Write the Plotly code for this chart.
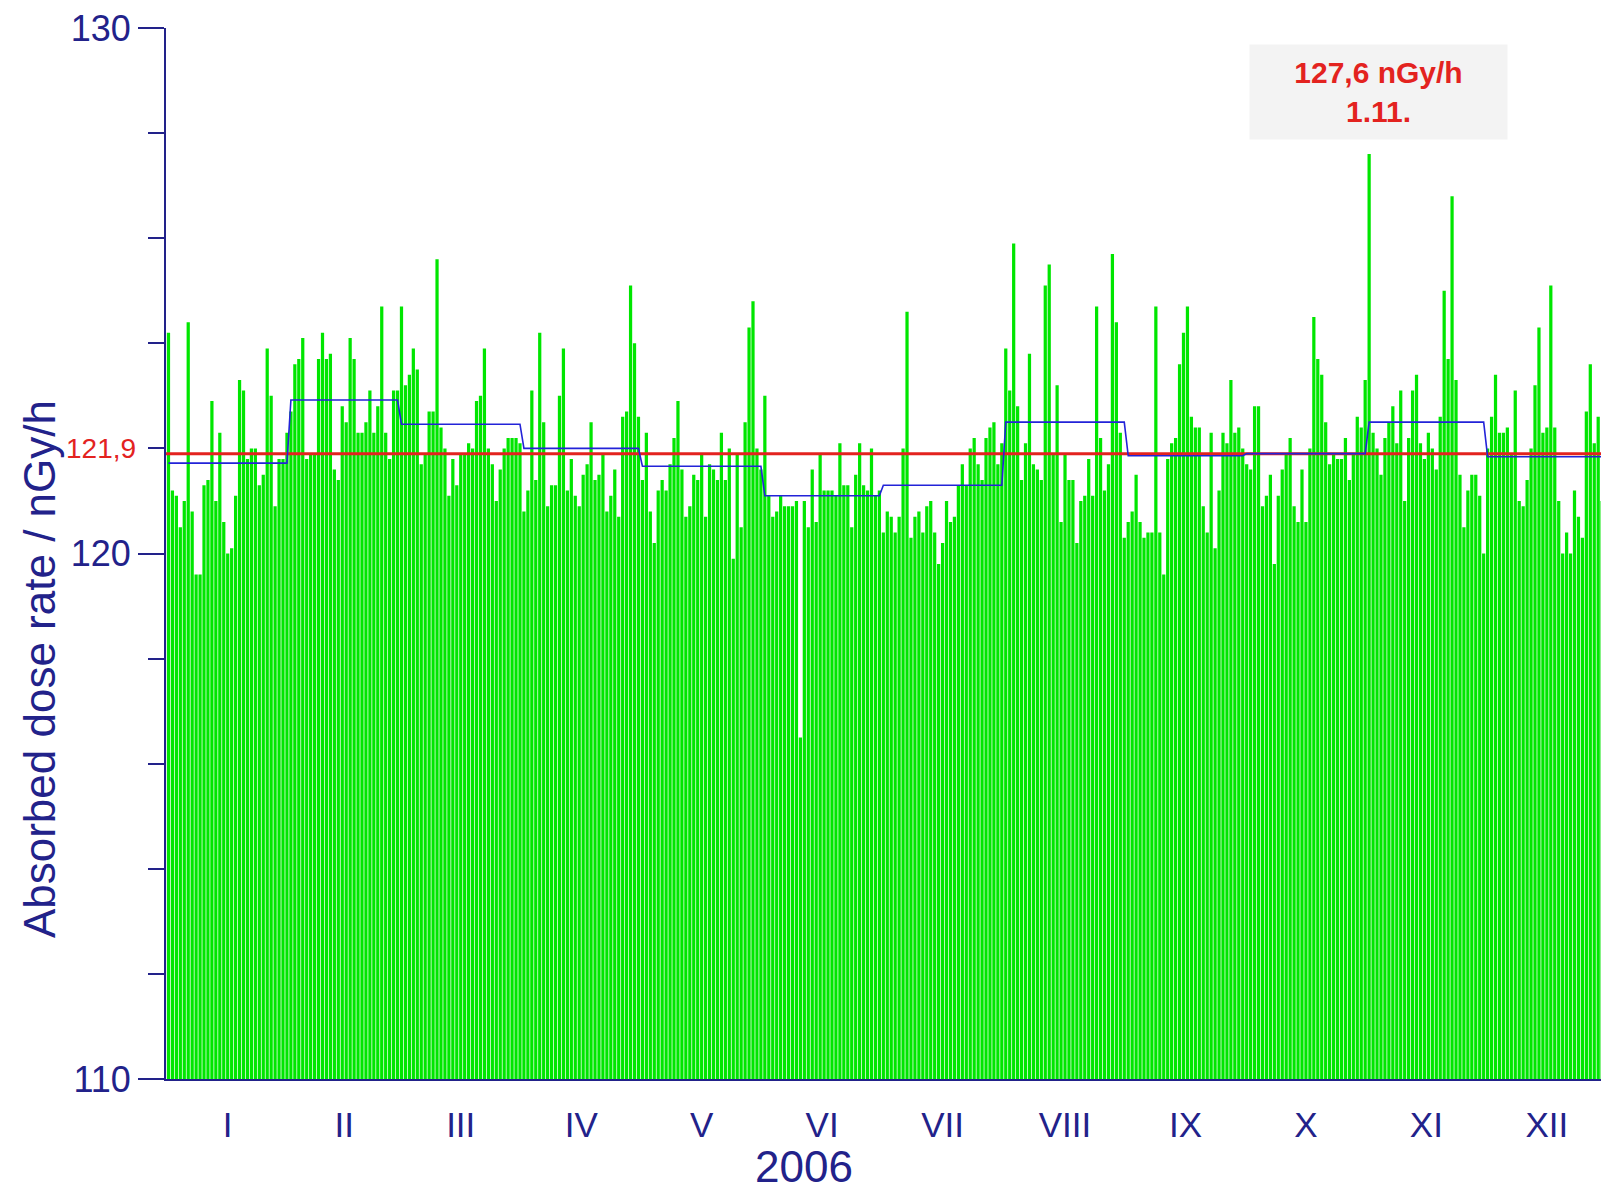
import pandas as pd
import plotly.graph_objects as go

# ---------------- data ----------------
year = 2006
month_labels = ["I", "II", "III", "IV", "V", "VI", "VII", "VIII", "IX", "X", "XI", "XII"]

jan = [124.2, 121.2, 121.1, 120.5, 121.0, 124.4, 120.8, 119.6, 119.6, 121.3, 121.4, 122.9, 121.0, 122.3,
       120.6, 120.0, 120.1, 121.1, 123.3, 123.1, 121.8, 122.0, 122.0, 121.3, 121.5, 123.9, 123.0, 120.9,
       121.8, 121.8, 122.3]
feb = [122.7, 123.6, 123.7, 124.1, 121.8, 121.9, 121.9, 123.7, 124.2, 123.7, 123.8, 121.6, 121.4, 122.8,
       122.5, 124.1, 123.7, 122.3, 122.3, 122.5, 123.1, 122.3, 122.8, 124.7, 122.3, 121.8, 123.1, 123.1]
mar = [124.7, 123.2, 123.4, 123.9, 123.5, 121.7, 121.9, 122.7, 122.7, 125.6, 122.4, 122.0, 121.1, 121.8,
       121.3, 121.9, 121.9, 122.1, 122.0, 122.9, 123.0, 123.9, 122.0, 121.7, 121.0, 121.6, 122.0, 122.2,
       122.2, 122.2, 122.1]
apr = [120.8, 121.2, 123.1, 121.4, 124.2, 122.5, 120.9, 121.3, 121.3, 123.0, 123.9, 121.2, 121.8, 121.1,
       120.9, 121.5, 121.7, 122.5, 121.4, 121.5, 121.9, 120.8, 121.1, 121.6, 120.7, 122.6, 122.7, 125.1,
       124.0, 122.6]
may = [121.4, 122.3, 120.8, 120.2, 121.2, 121.4, 121.2, 121.7, 122.2, 122.9, 121.6, 120.7, 120.9, 121.5,
       121.4, 121.9, 120.7, 121.7, 121.6, 121.4, 122.3, 121.4, 122.0, 119.9, 121.9, 120.5, 122.5, 124.3,
       124.8, 122.0, 121.6]
jun = [123.0, 121.1, 120.7, 120.8, 121.1, 120.9, 120.9, 120.9, 121.0, 116.5, 121.0, 120.5, 121.6, 120.6,
       121.9, 121.2, 121.2, 121.2, 121.1, 122.1, 121.3, 121.3, 120.5, 121.5, 122.1, 121.3, 121.2, 122.0,
       121.1, 121.2]
jul = [120.4, 120.8, 120.7, 120.4, 120.7, 122.0, 124.6, 120.3, 120.7, 120.8, 120.4, 120.9, 121.0, 120.4,
       119.8, 120.2, 121.0, 120.6, 120.7, 121.3, 121.7, 121.3, 122.0, 122.2, 121.7, 121.4, 122.2, 122.4,
       122.5, 121.7, 122.1]
aug = [123.9, 123.1, 125.9, 122.8, 121.4, 122.1, 123.8, 121.7, 121.6, 121.4, 125.1, 125.5, 121.9, 123.2,
       120.6, 121.9, 121.4, 121.4, 120.2, 121.0, 121.1, 121.8, 121.1, 124.7, 122.2, 121.2, 121.7, 125.7,
       124.4, 122.3, 120.3]
sep = [120.6, 120.8, 121.5, 120.6, 120.3, 120.4, 120.4, 124.7, 120.4, 119.6, 121.8, 122.1, 122.2, 123.6,
       124.2, 124.7, 122.6, 122.4, 122.4, 120.9, 120.4, 122.3, 120.1, 121.2, 122.3, 122.1, 123.3, 122.3,
       122.4, 122.0]
oct_ = [121.7, 121.6, 122.8, 122.8, 120.9, 121.1, 121.5, 119.8, 121.1, 121.6, 121.9, 122.2, 120.9, 120.6,
        121.6, 120.6, 122.0, 124.5, 123.7, 123.4, 122.5, 121.7, 121.9, 121.8, 121.8, 122.2, 121.4, 121.9,
        122.6, 122.4, 123.3]
nov = [127.6, 122.3, 122.0, 121.5, 122.2, 122.5, 122.8, 122.1, 123.1, 121.0, 122.2, 123.1, 123.4, 122.1,
       121.8, 122.3, 122.0, 121.6, 122.6, 125.0, 123.7, 126.8, 123.3, 121.5, 120.5, 121.2, 121.5, 121.5,
       121.1, 120.0]
dec = [122.0, 122.6, 123.4, 122.3, 122.3, 122.4, 121.9, 123.1, 121.0, 120.9, 121.4, 122.0, 123.2, 124.3,
       122.3, 122.4, 125.1, 122.4, 121.0, 120.0, 120.4, 120.0, 121.2, 120.7, 120.3, 122.7, 123.6, 122.1,
       122.6, 121.0, 120.8]

monthly_mean = [121.72, 122.92, 122.46, 122.0, 121.66, 121.1, 121.3, 122.5, 121.86, 121.9, 122.5, 121.84]
annual_mean = 121.9
peak_value = 127.6
peak_date = "2006-11-01"

# ---------------- build ----------------
daily = jan + feb + mar + apr + may + jun + jul + aug + sep + oct_ + nov + dec
dates = pd.date_range(f"{year}-01-01", f"{year}-12-31", freq="D")

month_starts = pd.date_range(f"{year}-01-01", periods=12, freq="MS")
month_ends = month_starts + pd.offsets.MonthEnd(0)
month_mids = [s + (e - s) / 2 for s, e in zip(month_starts, month_ends)]

step_x, step_y = [], []
for s, e, m in zip(month_starts, month_ends, monthly_mean):
    step_x += [s, e]
    step_y += [m, m]

x_start = pd.Timestamp(f"{year}-01-01") - pd.Timedelta(hours=15)
x_end = pd.Timestamp(f"{year}-12-29 17:00")

NAVY = "#22228a"
RED = "#e3231f"
FONT = "Liberation Sans, Arial, sans-serif"

fig = go.Figure()
fig.add_trace(go.Bar(x=dates, y=daily, marker=dict(color="#00e600", line=dict(width=0)),
                     name="daily", showlegend=False))
fig.add_trace(go.Scatter(x=[x_start, x_end], y=[annual_mean, annual_mean], mode="lines",
                         line=dict(color=RED, width=3), showlegend=False))
fig.add_trace(go.Scatter(x=step_x, y=step_y, mode="lines",
                         line=dict(color="#2323d8", width=1.6), showlegend=False))

pk = pd.Timestamp(peak_date)
peak_text = f"<b>{peak_value:.1f}".replace(".", ",") + f" nGy/h<br>{pk.day}.{pk.month}.</b>"

fig.update_layout(
    width=1601, height=1191,
    margin=dict(l=166, r=0, t=28, b=112),
    paper_bgcolor="white", plot_bgcolor="white",
    bargap=0.18,
    font=dict(family=FONT, color=NAVY),
    xaxis=dict(
        type="date", range=[x_start, x_end],
        tickmode="array", tickvals=month_mids, ticktext=month_labels,
        ticks="outside", ticklen=14, tickcolor="rgba(0,0,0,0)",
        tickfont=dict(size=35, color=NAVY, family=FONT),
        showline=True, linecolor=NAVY, linewidth=2,
        showgrid=False, zeroline=False,
    ),
    yaxis=dict(
        range=[110, 130], tickmode="array", tickvals=[110, 120, 130],
        ticks="outside", ticklen=26, tickwidth=2, tickcolor=NAVY,
        tickfont=dict(size=36, color=NAVY, family=FONT),
        showline=True, linecolor=NAVY, linewidth=2,
        showgrid=False, zeroline=False,
        minor=dict(tickmode="linear", tick0=110, dtick=2, ticks="outside", ticklen=16,
                   tickwidth=2, tickcolor=NAVY, showgrid=False),
    ),
    annotations=[
        # x-axis title
        dict(xref="paper", yref="paper", x=0.4443, y=-0.0835, xanchor="center", yanchor="middle",
             showarrow=False, text=str(year), font=dict(size=44, color=NAVY, family=FONT)),
        # y-axis title
        dict(xref="paper", yref="paper", x=-0.0885, y=0.390, xanchor="center", yanchor="middle",
             showarrow=False, textangle=-90, text="Absorbed dose rate / nGy/h",
             font=dict(size=44, color=NAVY, family=FONT)),
        # annual mean label
        dict(xref="paper", yref="y", x=0, y=annual_mean, xanchor="right", yanchor="middle",
             xshift=-28, yshift=5, showarrow=False,
             text=f"{annual_mean:.1f}".replace(".", ","),
             font=dict(size=28, color=RED, family=FONT)),
        # peak box
        dict(xref="paper", yref="paper", x=0.8446, y=0.939, xanchor="center", yanchor="middle",
             showarrow=False, text=peak_text, bgcolor="#f3f3f3", width=255, height=92,
             font=dict(size=30, color=RED, family=FONT)),
    ],
)

fig.write_html("out.html")
